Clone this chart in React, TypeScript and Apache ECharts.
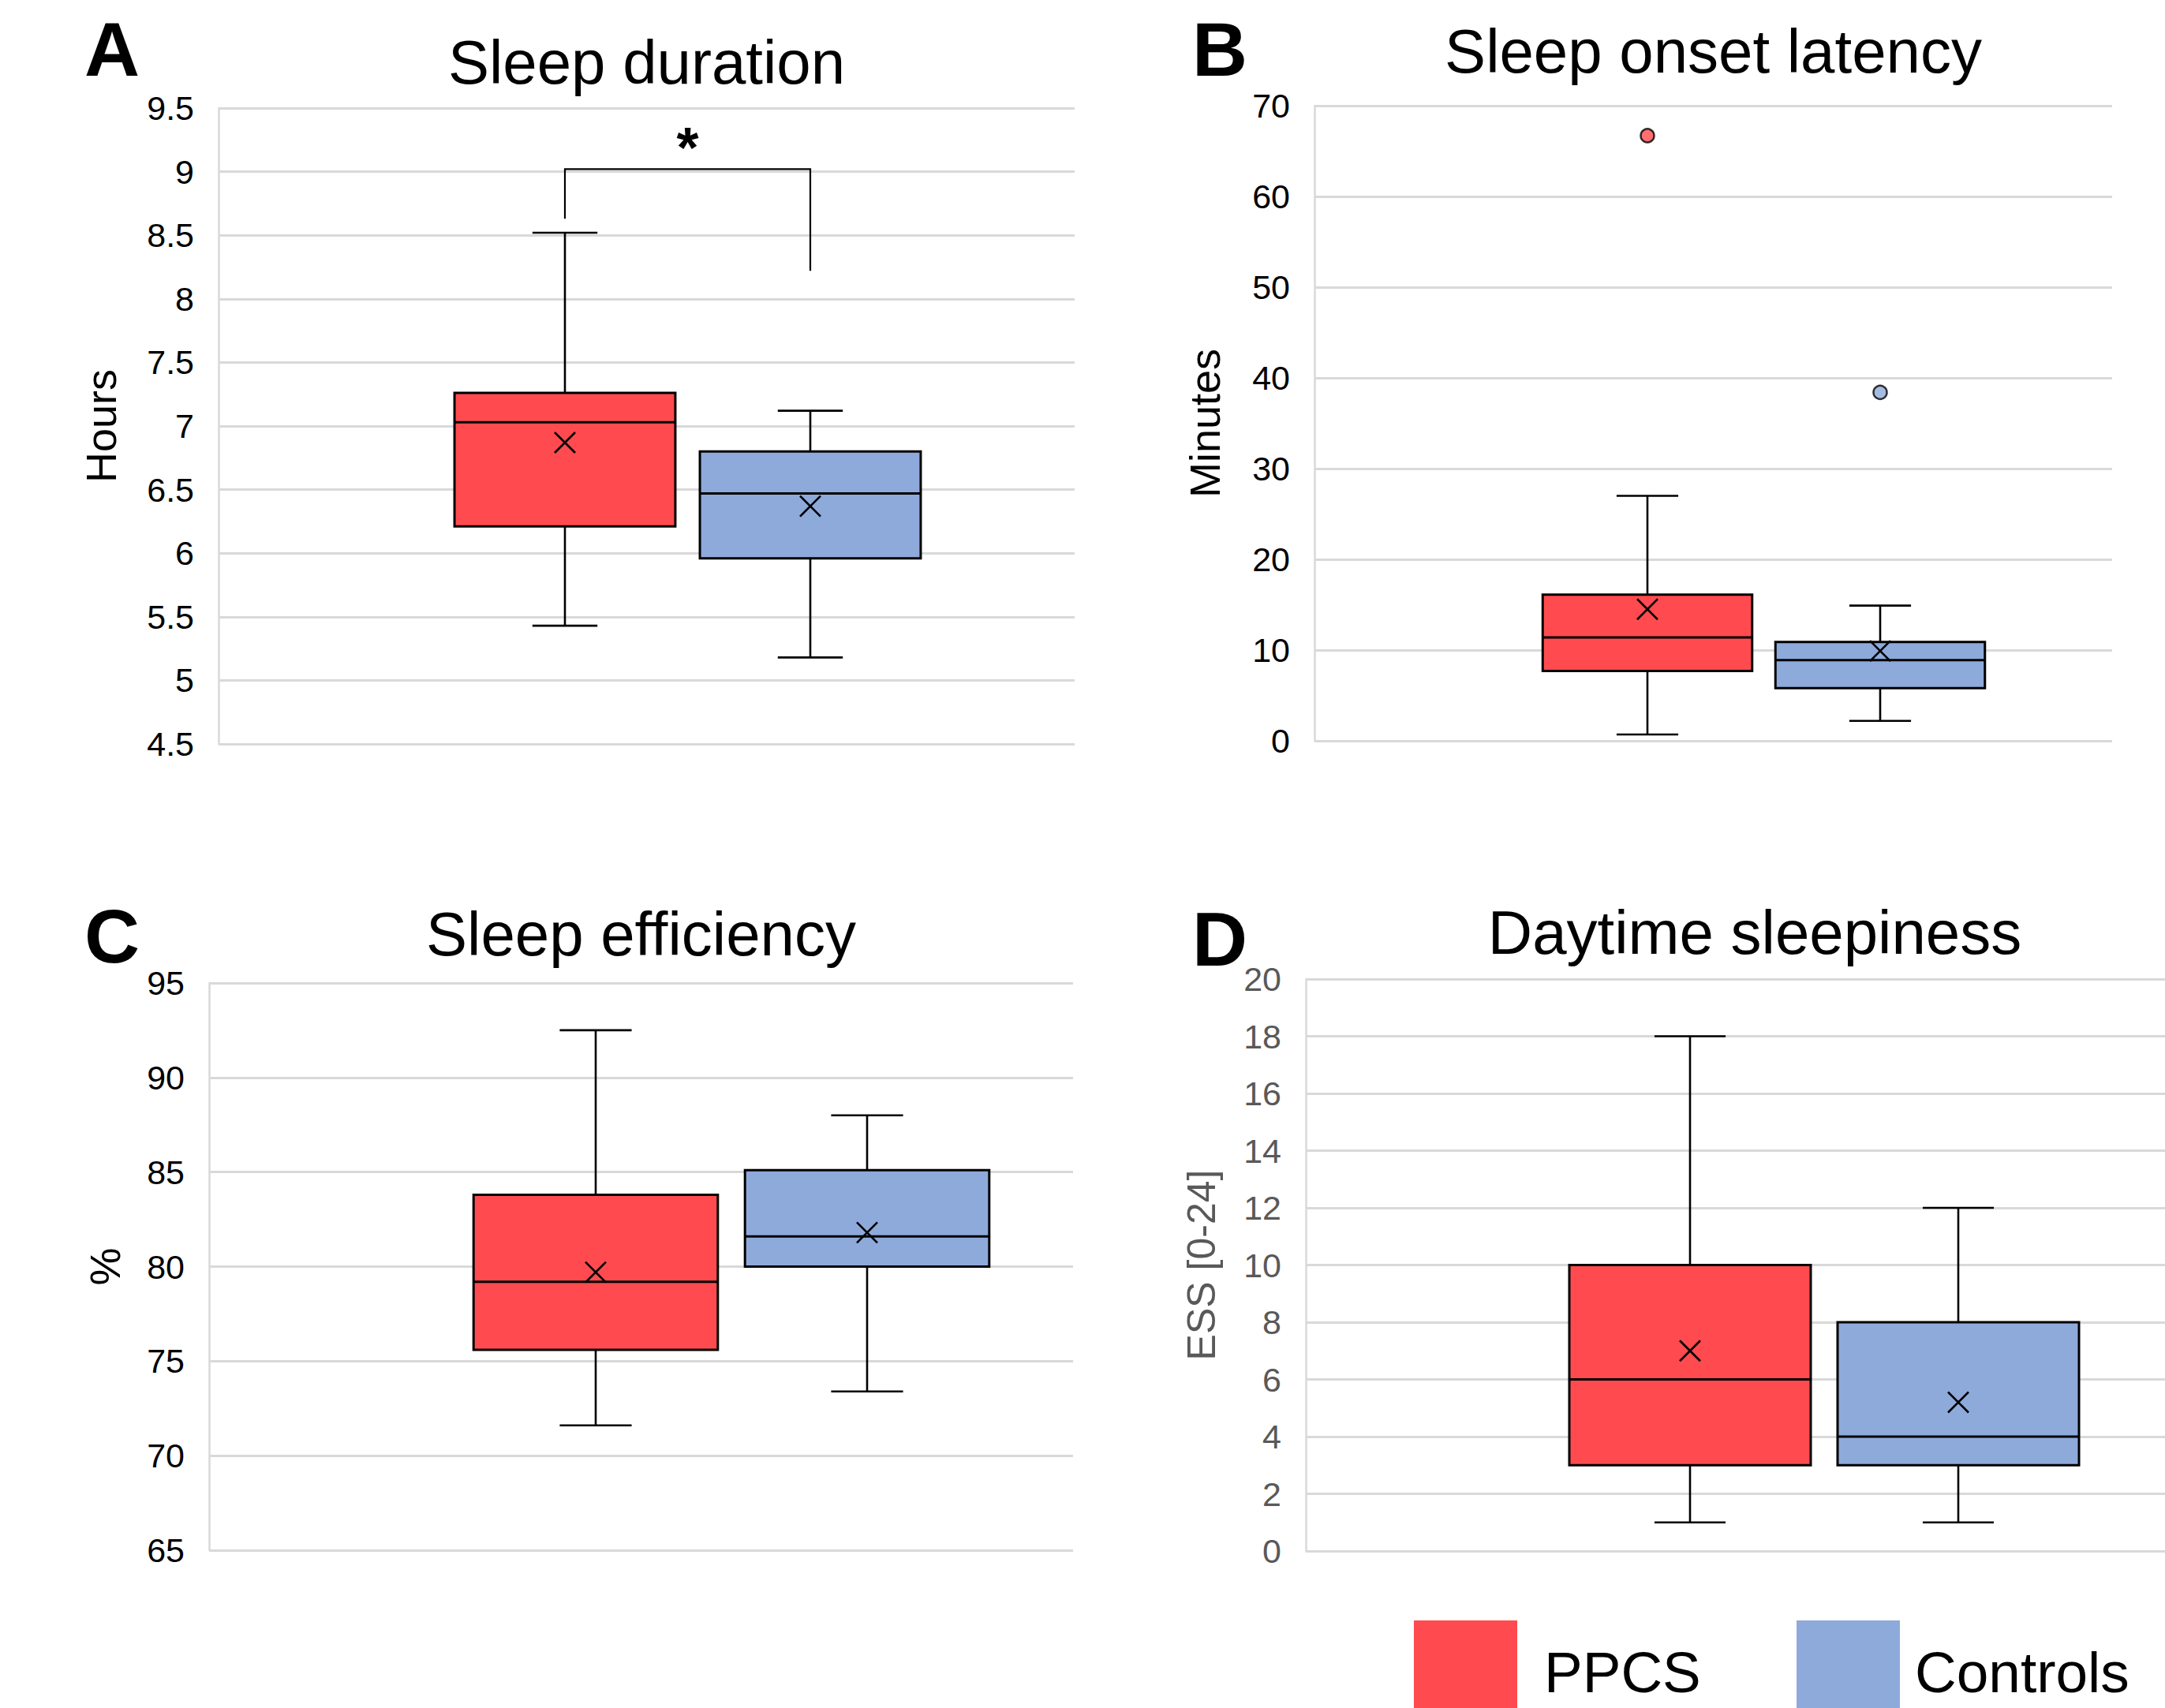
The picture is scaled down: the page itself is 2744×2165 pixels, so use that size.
import React, { useEffect, useRef } from 'react';
import * as echarts from 'echarts';

// ---------------- DATA ----------------
const categories = ['PPCS', 'Controls'];

// Box statistics: [min whisker, Q1, median, Q3, max whisker]
// A – Sleep duration (hours)
const durationPPCS = [5.43, 6.21, 7.03, 7.26, 8.52];
const durationControls = [5.18, 5.96, 6.47, 6.8, 7.12];
const durationMeans = [6.87, 6.37];
const durationBracket = [8.63, 9.02, 8.22]; // left foot, bar level, right foot
const durationStarLevel = 9.29;

// B – Sleep onset latency (minutes)
const latencyPPCS = [0.7, 7.7, 11.4, 16.1, 27.0];
const latencyControls = [2.2, 5.8, 8.9, 10.9, 14.9];
const latencyMeans = [14.5, 9.9];
const latencyOutliers = [66.7, 38.4];

// C – Sleep efficiency (%)
const efficiencyPPCS = [71.6, 75.6, 79.2, 83.8, 92.5];
const efficiencyControls = [73.4, 80.0, 81.6, 85.1, 88.0];
const efficiencyMeans = [79.7, 81.8];

// D – Daytime sleepiness (ESS)
const sleepinessPPCS = [1, 3, 6, 10, 18];
const sleepinessControls = [1, 3, 4, 8, 12];
const sleepinessMeans = [7.0, 5.2];

const panelTitles = ['Sleep duration', 'Sleep onset latency', 'Sleep efficiency', 'Daytime sleepiness'];
const panelLetters = ['A', 'B', 'C', 'D'];
const axisNames = ['Hours', 'Minutes', '%', 'ESS [0-24]'];
const axisMins = [4.5, 0, 65, 0];
const axisMaxs = [9.5, 70, 95, 20];
const axisSteps = [0.5, 10, 5, 2];
const legendLabels = ['PPCS', 'Controls'];

// ---------------- STYLE / LAYOUT ----------------
const FONT = "'Liberation Sans', Arial, Helvetica, sans-serif";
const GROUP_COLORS = ['#FF4B4F', '#8EAADB'];
const GRID_COLOR = '#d9d9d9';
const BOX_RATIO = 0.9;
const CAP_RATIO = 0.265;
const MEAN_HALF = 13;

const PANELS = [
  { plot: { left: 277, top: 137, width: 1085, height: 806 }, boxes: { left: 560.5, width: 622 }, titleX: 819.5, titleTop: 40, letterX: 107, letterY: 62, nameGap: 122, labelColor: '#000', nameColor: '#000', nameSize: 54 },
  { plot: { left: 1666, top: 134, width: 1011, height: 805 }, boxes: { left: 1940.5, width: 590 }, titleX: 2171.5, titleTop: 26, letterX: 1511, letterY: 62, nameGap: 112, labelColor: '#000', nameColor: '#000', nameSize: 54 },
  { plot: { left: 265, top: 1246, width: 1095, height: 719 }, boxes: { left: 583, width: 688 }, titleX: 812.5, titleTop: 1145, letterX: 107, letterY: 1186, nameGap: 105, labelColor: '#000', nameColor: '#000', nameSize: 54 },
  { plot: { left: 1655, top: 1241, width: 1138, height: 725 }, boxes: { left: 1972, width: 680 }, titleX: 2224, titleTop: 1143, letterX: 1511, letterY: 1190, nameGap: 107, labelColor: '#595959', nameColor: '#595959', nameSize: 50 },
];

const boxStats = [
  [durationPPCS, durationControls, durationMeans],
  [latencyPPCS, latencyControls, latencyMeans],
  [efficiencyPPCS, efficiencyControls, efficiencyMeans],
  [sleepinessPPCS, sleepinessControls, sleepinessMeans],
] as const;

function boxRenderItem(params: any, api: any) {
  const idx = api.value(0);
  const lo = api.coord([idx, api.value(1)]);
  const q1 = api.coord([idx, api.value(2)]);
  const med = api.coord([idx, api.value(3)]);
  const q3 = api.coord([idx, api.value(4)]);
  const hi = api.coord([idx, api.value(5)]);
  const mean = api.coord([idx, api.value(6)]);
  const band = api.size([1, 0])[0];
  const half = (band * BOX_RATIO) / 2;
  const capHalf = (band * CAP_RATIO) / 2;
  const cx = lo[0];
  const ln = { stroke: '#000', lineWidth: 2.6 };
  return {
    type: 'group',
    children: [
      { type: 'line', shape: { x1: cx, y1: hi[1], x2: cx, y2: q3[1] }, style: ln },
      { type: 'line', shape: { x1: cx, y1: q1[1], x2: cx, y2: lo[1] }, style: ln },
      { type: 'line', shape: { x1: cx - capHalf, y1: hi[1], x2: cx + capHalf, y2: hi[1] }, style: ln },
      { type: 'line', shape: { x1: cx - capHalf, y1: lo[1], x2: cx + capHalf, y2: lo[1] }, style: ln },
      {
        type: 'rect',
        shape: { x: cx - half, y: q3[1], width: half * 2, height: q1[1] - q3[1] },
        style: { fill: GROUP_COLORS[idx], stroke: '#000', lineWidth: 3 },
      },
      { type: 'line', shape: { x1: cx - half, y1: med[1], x2: cx + half, y2: med[1] }, style: { stroke: '#000', lineWidth: 3 } },
      { type: 'line', shape: { x1: cx - MEAN_HALF, y1: mean[1] - MEAN_HALF, x2: cx + MEAN_HALF, y2: mean[1] + MEAN_HALF }, style: { stroke: '#000', lineWidth: 2.6 } },
      { type: 'line', shape: { x1: cx - MEAN_HALF, y1: mean[1] + MEAN_HALF, x2: cx + MEAN_HALF, y2: mean[1] - MEAN_HALF }, style: { stroke: '#000', lineWidth: 2.6 } },
    ],
  };
}

function bracketRenderItem(params: any, api: any) {
  const p1 = api.coord([0, api.value(0)]);
  const p2 = api.coord([0, api.value(1)]);
  const p3 = api.coord([1, api.value(1)]);
  const p4 = api.coord([1, api.value(2)]);
  const star = api.coord([0, api.value(3)]);
  const starSize = 72;
  return {
    type: 'group',
    children: [
      { type: 'polyline', shape: { points: [p1, p2, p3, p4] }, style: { stroke: '#000', lineWidth: 2.2, fill: 'none' } },
      {
        type: 'text',
        style: {
          text: '*',
          x: (p2[0] + p3[0]) / 2,
          y: star[1] + starSize * 0.22,
          align: 'center',
          verticalAlign: 'middle',
          fontSize: starSize,
          fontWeight: 'bold',
          fontFamily: FONT,
          fill: '#000',
        },
      },
    ],
  };
}

function buildOption() {
  const grid: any[] = [];
  const xAxis: any[] = [];
  const yAxis: any[] = [];
  const series: any[] = [];
  const title: any[] = [];
  const graphic: any[] = [];

  PANELS.forEach((p, i) => {
    grid.push({ ...p.plot, containLabel: false });
    grid.push({ left: p.boxes.left, width: p.boxes.width, top: p.plot.top, height: p.plot.height, containLabel: false });
    const bg = 2 * i;
    const ov = 2 * i + 1;
    xAxis.push({ gridIndex: bg, type: 'category', data: categories, show: false });
    xAxis.push({ gridIndex: ov, type: 'category', data: categories, show: false });
    yAxis.push({
      gridIndex: bg,
      type: 'value',
      min: axisMins[i],
      max: axisMaxs[i],
      interval: axisSteps[i],
      name: axisNames[i],
      nameLocation: 'middle',
      nameGap: p.nameGap,
      nameTextStyle: { fontSize: p.nameSize, color: p.nameColor, fontFamily: FONT },
      axisLine: { show: true, lineStyle: { color: GRID_COLOR, width: 2.5 } },
      axisTick: { show: false },
      axisLabel: { fontSize: 43, color: p.labelColor, fontFamily: FONT, margin: 31 },
      splitLine: { show: true, lineStyle: { color: GRID_COLOR, width: 3 } },
    });
    yAxis.push({ gridIndex: ov, type: 'value', min: axisMins[i], max: axisMaxs[i], show: false, splitLine: { show: false } });

    const [ppcs, ctrl, means] = boxStats[i];
    const groups = [ppcs, ctrl];
    series.push({
      type: 'custom',
      name: panelTitles[i],
      xAxisIndex: ov,
      yAxisIndex: ov,
      renderItem: boxRenderItem,
      data: categories.map((_, k) => [k, ...groups[k], means[k]]),
      z: 3,
    });

    title.push({
      text: panelTitles[i],
      left: p.titleX,
      top: p.titleTop,
      padding: 0,
      textAlign: 'center',
      textVerticalAlign: 'top',
      textStyle: { fontSize: 78, fontWeight: 'normal', color: '#000', fontFamily: FONT },
    });
    graphic.push({
      type: 'text',
      x: p.letterX,
      y: p.letterY,
      style: { text: panelLetters[i], fontSize: 97, fontWeight: 'bold', fontFamily: FONT, fill: '#000', align: 'left', verticalAlign: 'middle' },
    });
  });

  // outliers (panel B)
  series.push({
    type: 'scatter',
    xAxisIndex: 3,
    yAxisIndex: 3,
    symbol: 'circle',
    symbolSize: 17,
    data: latencyOutliers.map((v, k) => ({ value: [k, v], itemStyle: { color: GROUP_COLORS[k] } })),
    itemStyle: { borderColor: '#000', borderWidth: 2.5 },
    z: 4,
  });

  // significance bracket (panel A)
  series.push({
    type: 'custom',
    xAxisIndex: 1,
    yAxisIndex: 1,
    renderItem: bracketRenderItem,
    data: [[...durationBracket, durationStarLevel]],
    z: 4,
  });

  // legend
  const legendRects = [1792, 2277];
  const legendTexts = [1957, 2427];
  legendLabels.forEach((lab, k) => {
    graphic.push({ type: 'rect', shape: { x: legendRects[k], y: 2054, width: 131, height: 131 }, style: { fill: GROUP_COLORS[k] } });
    graphic.push({
      type: 'text',
      x: legendTexts[k],
      y: 2119,
      style: { text: lab, fontSize: 73, fontFamily: FONT, fill: '#000', align: 'left', verticalAlign: 'middle' },
    });
  });

  return {
    animation: false,
    backgroundColor: '#fff',
    textStyle: { fontFamily: FONT },
    title,
    grid,
    xAxis,
    yAxis,
    series,
    graphic,
  };
}

export default function App() {
  const ref = useRef<HTMLDivElement>(null);
  useEffect(() => {
    document.body.style.margin = '0';
    if (!ref.current) return;
    const chart = echarts.init(ref.current, undefined, { renderer: 'svg' });
    chart.setOption(buildOption() as any);
    return () => chart.dispose();
  }, []);
  return <div ref={ref} style={{ position: 'absolute', left: 0, top: 0, width: 2744, height: 2165 }} />;
}
